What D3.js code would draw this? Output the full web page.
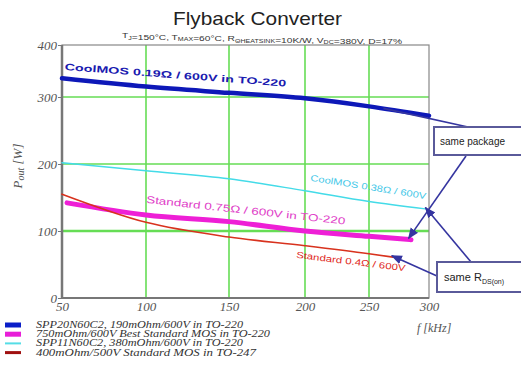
<!DOCTYPE html>
<html>
<head>
<meta charset="utf-8">
<script src="https://cdn.jsdelivr.net/npm/d3@7"></script>
<style>
  body { margin: 0; background: #fff; }
  svg { display: block; }
</style>
</head>
<body>
<svg id="chart" width="521" height="373"></svg>
<script>
// axis ticks
const xTicks = [50, 100, 150, 200, 250, 300];
const yTicks = [0, 100, 200, 300, 400];

// curves (f in kHz, Pout in W)
const coolmos019F = [50, 100, 150, 200, 250, 300];
const coolmos019P = [336, 320, 308, 298, 286, 272];
const coolmos038F = [50, 100, 150, 200, 250, 297];
const coolmos038P = [202, 190, 178, 160, 144, 133];
const std075F = [53, 100, 150, 200, 250, 285];
const std075P = [142, 124, 114, 100, 92, 87];
const std04F = [50, 100, 150, 200, 250, 270];
const std04P = [155, 113, 91, 78, 66, 61];

const legendLabels = [
  'SPP20N60C2, 190mOhm/600V in TO-220',
  '750mOhm/600V Best Standard MOS in TO-220',
  'SPP11N60C2, 380mOhm/600V in TO-220',
  '400mOhm/500V Standard MOS in TO-247'
];

const svg = d3.select('#chart');

// the scan is slightly stretched, so the scales are piecewise
const x = d3.scaleLinear().domain(xTicks).range([62, 146, 229, 305, 369, 429]);
const y = d3.scaleLinear().domain(yTicks).range([298, 231, 164, 97, 45]);

const series = [
  { f: coolmos019F, p: coolmos019P, color: '#0d18b8', width: 4.5, legendColor: '#0a1ec8', legendWidth: 5 },
  { f: std075F, p: std075P, color: '#ee1fd6', width: 5, legendColor: '#e81ed8', legendWidth: 5 },
  { f: coolmos038F, p: coolmos038P, color: '#44dbe8', width: 1.5, legendColor: '#55dde6', legendWidth: 2 },
  { f: std04F, p: std04P, color: '#d8321e', width: 1.6, legendColor: '#a01010', legendWidth: 3 }
];

// title
svg.append('text')
  .attr('x', 173).attr('y', 25)
  .attr('font-family', 'Liberation Sans, Arial, sans-serif')
  .attr('font-size', 19)
  .attr('fill', '#222')
  .attr('textLength', 169)
  .attr('lengthAdjust', 'spacingAndGlyphs')
  .text('Flyback Converter');

const sub = svg.append('text')
  .attr('x', 122).attr('y', 38)
  .attr('font-family', 'Liberation Sans, Arial, sans-serif')
  .attr('font-size', 6.5)
  .attr('fill', '#333')
  .attr('textLength', 280)
  .attr('lengthAdjust', 'spacingAndGlyphs');
[['T', false], ['J', true], ['=150°C, T', false], ['MAX', true], ['=60°C, R', false], ['\u0398HEATSINK', true],
 ['=10K/W, V', false], ['DC', true], ['=380V, D=17%', false]].forEach(([t, s]) => {
  sub.append('tspan')
    .attr('font-size', s ? 4.5 : 6.5)
    .attr('dy', s ? 1.5 : 0)
    .text(t);
  if (s) sub.append('tspan').attr('dy', -1.5).text('');
});

// grid
const grid = svg.append('g');
grid.selectAll('.vg')
  .data(xTicks.slice(1, -1))
  .enter().append('line')
    .attr('x1', d => x(d)).attr('x2', d => x(d))
    .attr('y1', y(400)).attr('y2', y(0))
    .attr('stroke', '#66dd55').attr('stroke-width', 1.6);
grid.selectAll('.hg')
  .data(yTicks.slice(1, -1))
  .enter().append('line')
    .attr('x1', x(50)).attr('x2', x(300))
    .attr('y1', d => y(d)).attr('y2', d => y(d))
    .attr('stroke', '#66dd55')
    .attr('stroke-width', d => d === 100 ? 2.4 : 1.3);

// frame
svg.append('rect')
  .attr('x', x(50)).attr('y', y(400))
  .attr('width', x(300) - x(50)).attr('height', y(0) - y(400))
  .attr('fill', 'none').attr('stroke', '#888').attr('stroke-width', 1.2);
svg.append('line')
  .attr('x1', x(50)).attr('x2', x(50)).attr('y1', y(400)).attr('y2', y(0))
  .attr('stroke', '#777').attr('stroke-width', 2.5);
svg.append('line')
  .attr('x1', x(50)).attr('x2', x(300)).attr('y1', y(0)).attr('y2', y(0))
  .attr('stroke', '#777').attr('stroke-width', 2);

// axes
const axisFont = 'Liberation Serif, Times New Roman, serif';
const yAxis = svg.append('g')
  .attr('transform', `translate(${x(50)},0)`)
  .call(d3.axisLeft(y).tickValues(yTicks).tickSize(4).tickPadding(1));
yAxis.select('.domain').remove();
yAxis.selectAll('line').attr('stroke', '#777');
yAxis.selectAll('text')
  .attr('font-family', axisFont).attr('font-style', 'italic')
  .attr('font-size', 13).attr('fill', '#555');

const xAxis = svg.append('g')
  .attr('transform', `translate(0,${y(0)})`)
  .call(d3.axisBottom(x).tickValues(xTicks).tickSize(0).tickPadding(4));
xAxis.select('.domain').remove();
xAxis.selectAll('text')
  .attr('font-family', axisFont).attr('font-style', 'italic')
  .attr('font-size', 13).attr('fill', '#555');

svg.append('text')
  .attr('x', 417).attr('y', 332)
  .attr('font-family', axisFont).attr('font-style', 'italic')
  .attr('font-size', 12).attr('fill', '#555')
  .text('f [kHz]');

const yl = svg.append('text')
  .attr('transform', 'translate(22,166) rotate(-90)')
  .attr('text-anchor', 'middle')
  .attr('font-family', axisFont).attr('font-style', 'italic')
  .attr('font-size', 13).attr('fill', '#555');
yl.append('tspan').text('P');
yl.append('tspan').attr('font-size', 10).attr('dy', 2).text('out');
yl.append('tspan').attr('dy', -2).text(' [W]');

// curves
const line = d3.line()
  .x(d => x(d[0]))
  .y(d => y(d[1]))
  .curve(d3.curveMonotoneX);

svg.append('g').selectAll('path')
  .data(series)
  .enter().append('path')
    .attr('d', s => line(s.f.map((f, i) => [f, s.p[i]])))
    .attr('fill', 'none')
    .attr('stroke', s => s.color)
    .attr('stroke-width', s => s.width)
    .attr('stroke-linecap', 'round');

// in-plot labels
const labels = [
  { text: 'CoolMOS 0.19\u03A9 / 600V in TO-220', fx: 51.5, py: 352, len: 222, angle: 4.3, color: '#1a1ab0', size: 9.5, bold: true },
  { text: 'CoolMOS 0.38\u03A9 / 600V', fx: 204, py: 175, len: 117, angle: 9, color: '#44c8e8', size: 9, bold: false },
  { text: 'Standard 0.75\u03A9 / 600V in TO-220', fx: 100, py: 142, len: 200, angle: 6.2, color: '#e040c8', size: 10, bold: false },
  { text: 'Standard 0.4\u03A9 / 600V', fx: 194, py: 60, len: 110, angle: 7, color: '#e0281c', size: 9, bold: false }
];
svg.append('g').selectAll('text')
  .data(labels)
  .enter().append('text')
    .attr('transform', d => `translate(${x(d.fx)},${y(d.py)}) rotate(${d.angle})`)
    .attr('font-family', 'Liberation Sans, Arial, sans-serif')
    .attr('font-size', d => d.size)
    .attr('font-weight', d => d.bold ? 'bold' : 'normal')
    .attr('fill', d => d.color)
    .attr('textLength', d => d.len)
    .attr('lengthAdjust', 'spacingAndGlyphs')
    .text(d => d.text);

// callouts
const defs = svg.append('defs');
defs.append('marker')
  .attr('id', 'arr')
  .attr('viewBox', '0 0 10 10')
  .attr('refX', 9).attr('refY', 5)
  .attr('markerWidth', 7).attr('markerHeight', 7)
  .attr('orient', 'auto')
  .append('path').attr('d', 'M0,1 L10,5 L0,9 Z').attr('fill', '#3535a0');

const callColor = '#3535a0';
const arrows = [
  [468, 127, x(262), y(283), false],
  [466, 156, x(283), y(89), true],
  [471, 262, x(297), y(135), true],
  [437, 276, x(269), y(63), true]
];
svg.append('g').selectAll('line')
  .data(arrows)
  .enter().append('line')
    .attr('x1', d => d[0]).attr('y1', d => d[1])
    .attr('x2', d => d[2]).attr('y2', d => d[3])
    .attr('stroke', callColor).attr('stroke-width', 1.6)
    .attr('marker-end', d => d[4] ? 'url(#arr)' : null);

svg.append('rect')
  .attr('x', 434).attr('y', 127).attr('width', 95).attr('height', 28)
  .attr('fill', '#fff').attr('stroke', '#5a5a9a').attr('stroke-width', 2);
svg.append('text')
  .attr('x', 440).attr('y', 145)
  .attr('font-family', 'Liberation Sans, Arial, sans-serif')
  .attr('font-size', 10).attr('fill', '#222')
  .text('same package');

svg.append('rect')
  .attr('x', 437).attr('y', 262).attr('width', 92).attr('height', 30)
  .attr('fill', '#fff').attr('stroke', '#5a5a9a').attr('stroke-width', 2);
const rds = svg.append('text')
  .attr('x', 444).attr('y', 281)
  .attr('font-family', 'Liberation Sans, Arial, sans-serif')
  .attr('font-size', 11).attr('fill', '#222');
rds.append('tspan').text('same R');
rds.append('tspan').attr('font-size', 7).attr('dy', 3).text('DS(on)');

// legend
const legend = svg.append('g').selectAll('g')
  .data(series)
  .enter().append('g')
    .attr('transform', (d, i) => `translate(5,${325 + i * 9.2})`);
legend.append('line')
  .attr('x1', 0).attr('x2', 16)
  .attr('stroke', d => d.legendColor)
  .attr('stroke-width', d => d.legendWidth);
legend.append('text')
  .attr('x', 31).attr('y', 3)
  .attr('font-family', axisFont).attr('font-style', 'italic')
  .attr('font-size', 9.5).attr('fill', '#333')
  .attr('textLength', (d, i) => [207, 234, 207, 220][i])
  .attr('lengthAdjust', 'spacingAndGlyphs')
  .text((d, i) => legendLabels[i]);
</script>
</body>
</html>
